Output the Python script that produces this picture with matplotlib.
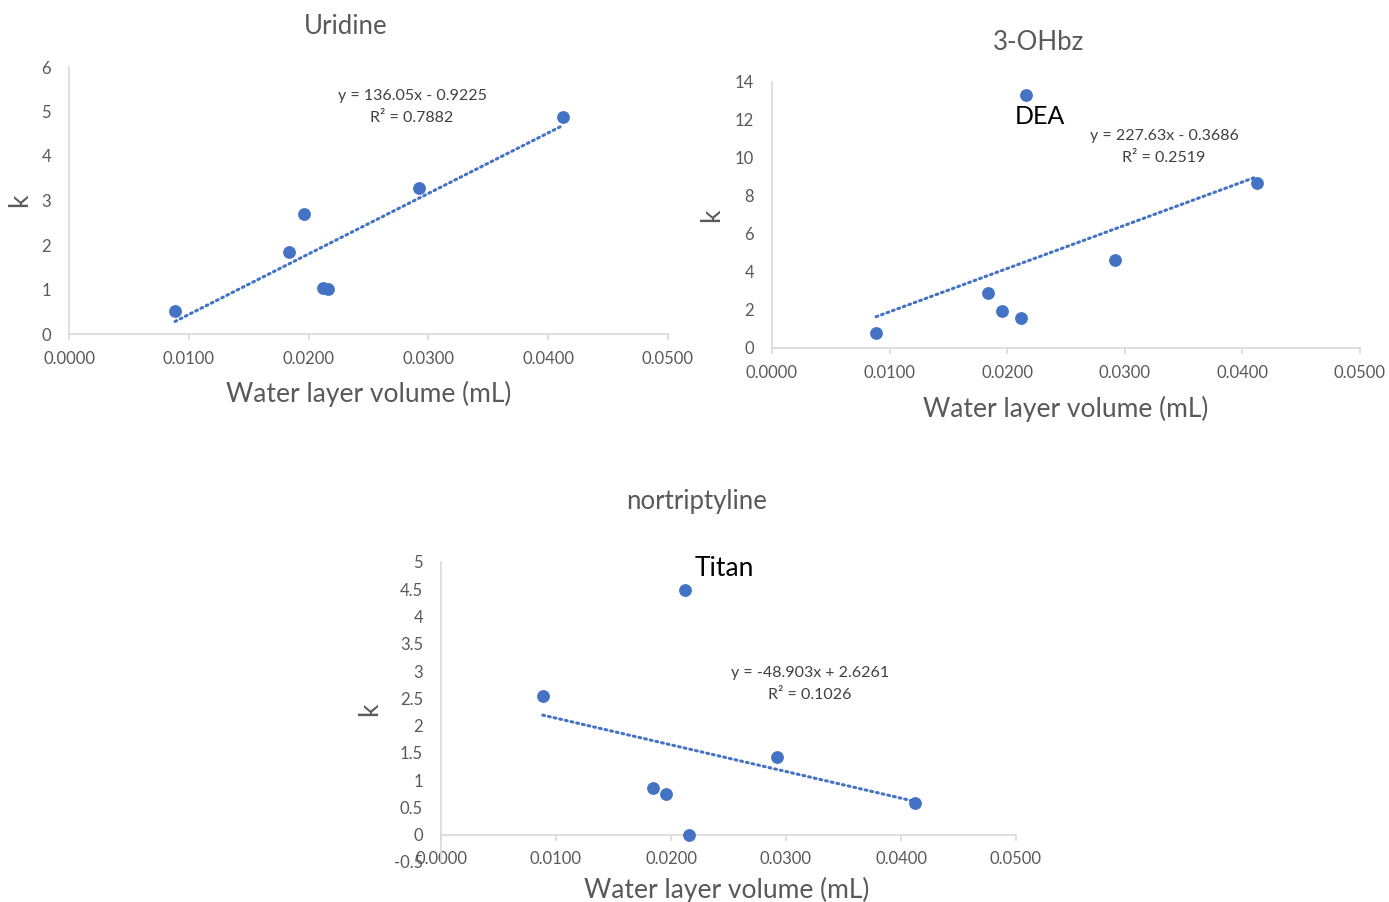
import matplotlib
matplotlib.use("Agg")
import matplotlib.pyplot as plt
import numpy as np

plt.rcParams['font.family'] = ['Lato', 'DejaVu Sans']

# Data
water_volume = [0.00885, 0.0184, 0.0196, 0.0212, 0.0216, 0.0292, 0.0412]
k_uridine = [0.52, 1.84, 2.70, 1.03, 1.01, 3.28, 4.88]
k_3ohbz = [0.79, 2.89, 1.95, 1.58, 13.3, 4.63, 8.68]
k_nortrip = [2.55, 0.86, 0.75, 4.49, 0.0, 1.43, 0.59]

titles = ["Uridine", "3-OHbz", "nortriptyline"]
slopes = [136.05, 227.63, -48.903]
intercepts = [-0.9225, -0.3686, 2.6261]
r2 = [0.7882, 0.2519, 0.1026]
eq_texts = ["y = 136.05x - 0.9225", "y = 227.63x - 0.3686", "y = -48.903x + 2.6261"]
r2_texts = ["R² = 0.7882", "R² = 0.2519", "R² = 0.1026"]
x_ticks = [0.0, 0.01, 0.02, 0.03, 0.04, 0.05]
x_ticklabels = ["0.0000", "0.0100", "0.0200", "0.0300", "0.0400", "0.0500"]
y_ticks_uridine = [0, 1, 2, 3, 4, 5, 6]
y_ticks_3ohbz = [0, 2, 4, 6, 8, 10, 12, 14]
y_ticks_nortrip = [-0.5, 0, 0.5, 1, 1.5, 2, 2.5, 3, 3.5, 4, 4.5, 5]
y_ticklabels_nortrip = ["-0.5", "0", "0.5", "1", "1.5", "2", "2.5", "3", "3.5", "4", "4.5", "5"]

W, H = 1389, 902
fig = plt.figure(figsize=(W / 100, H / 100), dpi=100)

BLUE = "#4472C4"
GRAY = "#595959"
EQ = "#404040"
AXC = "#D9D9D9"
TICK_FS = 12
EQ_FS = 11.5
TITLE_FS = 18.5
AXT_FS = 19
NOTE_FS = 18


def fx(px):
    return px / W


def fy(py):
    return 1 - py / H


def make_ax(left, right, top, bottom):
    return fig.add_axes([fx(left), fy(bottom), (right - left) / W, (bottom - top) / H])


def style(ax, yticks, ylabels=None):
    for s in ["top", "right"]:
        ax.spines[s].set_visible(False)
    for s in ["left", "bottom"]:
        ax.spines[s].set_color(AXC)
        ax.spines[s].set_linewidth(1.2)
    ax.set_xlim(0, 0.05)
    ax.set_xticks(x_ticks)
    ax.set_xticklabels(x_ticklabels)
    ax.set_yticks(yticks)
    if ylabels is not None:
        ax.set_yticklabels(ylabels)
    ax.tick_params(axis="x", colors=GRAY, labelsize=TICK_FS, length=4, width=1.2, pad=8)
    ax.tick_params(axis="x", color=AXC)
    ax.tick_params(axis="y", colors=GRAY, labelsize=TICK_FS, length=0, pad=13)
    ax.patch.set_alpha(0)


def plot_series(ax, ys, i):
    x = np.array(water_volume)
    xl = np.array([x.min(), x.max()])
    ax.plot(xl, slopes[i] * xl + intercepts[i], color=BLUE, lw=2.2,
            linestyle=(0, (0.6, 1.3)), dash_capstyle="round", zorder=2)
    ax.scatter(x, ys, s=85, color=BLUE, zorder=3, linewidths=0, clip_on=False)


# Uridine
ax1 = make_ax(69, 668, 67, 334)
ax1.set_ylim(0, 6)
style(ax1, y_ticks_uridine)
plot_series(ax1, k_uridine, 0)
ax1.text(0.5726, 0.891, eq_texts[0], transform=ax1.transAxes, ha="center", va="center", fontsize=EQ_FS, color=EQ)
ax1.text(0.5726, 0.809, r2_texts[0], transform=ax1.transAxes, ha="center", va="center", fontsize=EQ_FS, color=EQ)
fig.text(fx(346), fy(27), titles[0], ha="center", va="center", fontsize=TITLE_FS, color=GRAY)
fig.text(fx(369), fy(394), "Water layer volume (mL)", ha="center", va="center", fontsize=AXT_FS, color=GRAY)
fig.text(fx(20), fy(200), "k", ha="center", va="center", fontsize=AXT_FS, color=GRAY, rotation=90)

# 3-OHbz
ax2 = make_ax(772, 1360, 82, 348)
ax2.set_ylim(0, 14)
style(ax2, y_ticks_3ohbz)
plot_series(ax2, k_3ohbz, 1)
ax2.text(0.6667, 0.797, eq_texts[1], transform=ax2.transAxes, ha="center", va="center", fontsize=EQ_FS, color=EQ)
ax2.text(0.6667, 0.714, r2_texts[1], transform=ax2.transAxes, ha="center", va="center", fontsize=EQ_FS, color=EQ)
ax2.text(0.456, 0.872, "DEA", transform=ax2.transAxes, ha="center", va="center", fontsize=NOTE_FS, color="black")
fig.text(fx(1039), fy(42), titles[1], ha="center", va="center", fontsize=TITLE_FS, color=GRAY)
fig.text(fx(1066), fy(409), "Water layer volume (mL)", ha="center", va="center", fontsize=AXT_FS, color=GRAY)
fig.text(fx(712), fy(215), "k", ha="center", va="center", fontsize=AXT_FS, color=GRAY, rotation=90)

# nortriptyline
ax3 = make_ax(441, 1016, 562, 862)
ax3.set_ylim(-0.5, 5)
style(ax3, y_ticks_nortrip, y_ticklabels_nortrip)
ax3.spines["bottom"].set_position(("data", 0))
plot_series(ax3, k_nortrip, 2)
ax3.text(0.642, 0.63, eq_texts[2], transform=ax3.transAxes, ha="center", va="center", fontsize=EQ_FS, color=EQ)
ax3.text(0.642, 0.557, r2_texts[2], transform=ax3.transAxes, ha="center", va="center", fontsize=EQ_FS, color=EQ)
ax3.text(0.492, 0.98, "Titan", transform=ax3.transAxes, ha="center", va="center", fontsize=19, color="black")
fig.text(fx(697), fy(502), titles[2], ha="center", va="center", fontsize=TITLE_FS, color=GRAY)
fig.text(fx(727), fy(890), "Water layer volume (mL)", ha="center", va="center", fontsize=AXT_FS, color=GRAY)
fig.text(fx(370), fy(709), "k", ha="center", va="center", fontsize=AXT_FS, color=GRAY, rotation=90)

fig.savefig("out.png", dpi=100, facecolor="white")
